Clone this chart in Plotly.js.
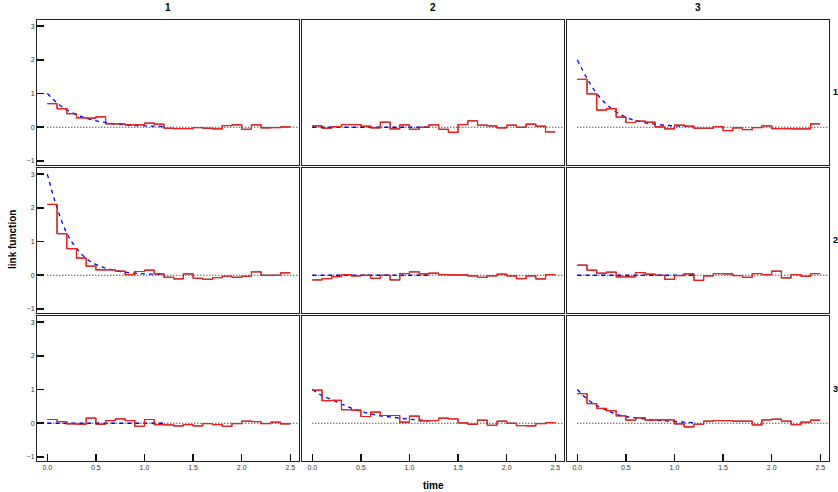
<!DOCTYPE html>
<html>
<head>
<meta charset="utf-8">
<script src="https://cdn.plot.ly/plotly-3.0.1.min.js"></script>
<style>html,body{margin:0;padding:0;background:#fff;}#plot{width:838px;height:492px;}</style>
</head>
<body>
<div id="plot"></div>
<script>
// bin edges (time)
var binEdges = [0,0.1,0.2,0.3,0.4,0.5,0.6,0.7,0.8,0.9,1.0,1.1,1.2,1.3,1.4,1.5,1.6,1.7,1.8,1.9,2.0,2.1,2.2,2.3,2.4,2.5];
var curveTime = [0,0.1,0.2,0.3,0.4,0.5,0.6,0.7,0.8,0.9,1.0,1.1,1.2];
var xTickVals = [0,0.5,1.0,1.5,2.0,2.5];
var xTickText = ["0.0","0.5","1.0","1.5","2.0","2.5"];
var yTickVals = [-1,0,1,2,3];
var yTickText = ["\u22121","0","1","2","3"];
var colLabels = ["1","2","3"];
var rowLabels = ["1","2","3"];

// step estimates per panel (row, col)
var step11 = [0.70,0.55,0.40,0.28,0.27,0.31,0.10,0.10,0.07,0.07,0.12,0.09,-0.03,-0.04,-0.04,-0.01,-0.03,-0.05,0.05,0.07,-0.06,0.07,-0.02,-0.01,0.01];
var step12 = [0.04,-0.03,0.02,0.08,0.08,0.03,-0.02,0.15,-0.05,0.07,-0.06,0.00,0.07,-0.06,-0.15,0.08,0.19,0.06,0.04,-0.02,0.06,0.00,0.09,0.03,-0.14];
var step13 = [1.42,0.99,0.51,0.55,0.30,0.14,0.18,0.15,0.01,-0.05,0.06,0.03,-0.03,-0.03,0.02,-0.10,-0.02,-0.07,-0.01,0.04,-0.04,-0.04,-0.05,-0.05,0.10];
var step21 = [2.10,1.23,0.79,0.51,0.27,0.16,0.16,0.12,0.02,0.11,0.15,0.04,-0.06,-0.11,0.04,-0.09,-0.12,-0.07,-0.03,-0.06,-0.03,0.10,0.00,0.00,0.07];
var step22 = [-0.14,-0.10,-0.04,0.02,-0.02,0.00,-0.09,0.00,-0.14,0.05,0.10,0.04,0.06,0.02,0.01,0.01,-0.02,-0.06,-0.02,0.03,-0.02,-0.10,-0.02,-0.11,0.02];
var step23 = [0.30,0.15,0.06,0.09,-0.05,-0.05,0.08,0.03,0.00,-0.12,-0.01,0.04,-0.15,-0.02,0.05,0.04,-0.01,-0.06,0.05,0.02,0.12,-0.08,0.02,-0.03,0.05];
var step31 = [0.11,0.05,-0.02,-0.03,0.15,-0.03,0.08,0.13,0.08,-0.09,0.11,-0.04,-0.05,-0.08,-0.04,-0.08,-0.01,-0.04,-0.09,-0.01,0.06,0.05,-0.01,0.03,-0.02];
var step32 = [0.98,0.67,0.68,0.40,0.39,0.20,0.33,0.23,0.23,0.03,0.21,0.07,0.08,0.15,0.13,0.01,-0.03,0.09,-0.06,0.06,0.00,-0.07,-0.08,-0.01,0.02];
var step33 = [0.88,0.58,0.44,0.37,0.22,0.09,0.16,0.09,0.10,0.10,-0.02,-0.11,-0.03,0.06,0.08,0.08,0.06,0.06,-0.05,0.10,0.12,0.06,-0.04,0.03,0.09];

// true link function (blue dashed)
var curve11 = [1.00,0.72,0.52,0.37,0.27,0.19,0.14,0.10,0.07,0.05,0.04,0.03,0.02];
var curve12 = [0,0,0,0,0,0,0,0,0,0,0,0,0];
var curve13 = [2.00,1.45,1.00,0.68,0.45,0.30,0.20,0.13,0.09,0.06,0.04,0.03,0.02];
var curve21 = [3.00,2.00,1.25,0.80,0.50,0.32,0.21,0.14,0.09,0.06,0.04,0.03,0.02];
var curve22 = [0,0,0,0,0,0,0,0,0,0,0,0,0];
var curve23 = [0,0,0,0,0,0,0,0,0,0,0,0,0];
var curve31 = [0,0,0,0,0,0,0,0,0,0,0,0,0];
var curve32 = [1.00,0.82,0.70,0.57,0.45,0.35,0.28,0.22,0.19,0.15,0.12,0.10,0.07];
var curve33 = [1.00,0.72,0.52,0.39,0.27,0.20,0.16,0.12,0.09,0.07,0.05,0.03,0.02];

var steps = [[step11,step12,step13],[step21,step22,step23],[step31,step32,step33]];
var curves = [[curve11,curve12,curve13],[curve21,curve22,curve23],[curve31,curve32,curve33]];

var W = 838, H = 492;
var colPx = [[37,299],[302,564],[567,829]];
var rowPx = [[20,165],[168,313],[316,461]];
var xr = [-0.106, 2.59];
var yr = [-1.12, 3.18];

var traces = [];
var layout = {
  width: W, height: H,
  margin: {l:0, r:0, t:0, b:0},
  paper_bgcolor: '#fff', plot_bgcolor: '#fff',
  showlegend: false,
  font: {family: 'Liberation Sans, Arial, sans-serif', size: 7, color: '#333'},
  annotations: []
};

for (var r = 0; r < 3; r++) {
  for (var c = 0; c < 3; c++) {
    var idx = r*3 + c + 1;
    var xa = 'x' + (idx === 1 ? '' : idx);
    var ya = 'y' + (idx === 1 ? '' : idx);
    var xkey = 'xaxis' + (idx === 1 ? '' : idx);
    var ykey = 'yaxis' + (idx === 1 ? '' : idx);
    var isBottom = (r === 2), isLeft = (c === 0);
    layout[xkey] = {
      domain: [colPx[c][0]/W, colPx[c][1]/W],
      anchor: ya, range: xr, showgrid: false, zeroline: false,
      showline: true, mirror: true, linecolor: '#222', linewidth: 1,
      ticks: isBottom ? 'inside' : '', ticklen: 7, tickwidth: 1.5, tickcolor: '#111',
      tickvals: xTickVals, ticktext: xTickText, showticklabels: isBottom,
      tickfont: {size: 7, color: '#333'}
    };
    layout[ykey] = {
      domain: [1 - rowPx[r][1]/H, 1 - rowPx[r][0]/H],
      anchor: xa, range: yr, showgrid: false, zeroline: false,
      showline: true, mirror: true, linecolor: '#222', linewidth: 1,
      ticks: isLeft ? 'inside' : '', ticklen: 7, tickwidth: 1.5, tickcolor: '#111',
      tickvals: yTickVals, ticktext: yTickText, showticklabels: isLeft,
      tickfont: {size: 7, color: '#333'}
    };
    // zero reference (dotted)
    traces.push({x: [0, xr[1]], y: [0, 0], xaxis: xa, yaxis: ya, mode: 'lines',
      line: {color: '#000', width: 1, dash: '1px,2px'}, hoverinfo: 'skip'});
    // true curve (blue dashed)
    traces.push({x: curveTime, y: curves[r][c], xaxis: xa, yaxis: ya, mode: 'lines',
      line: {color: '#0000ff', width: 1.3, dash: '4px,4px', shape: 'spline'}, hoverinfo: 'skip'});
    var s = steps[r][c];
    var sy = s.concat([s[s.length-1]]);
    // estimate steps: black underneath, red on top
    traces.push({x: binEdges, y: sy, xaxis: xa, yaxis: ya, mode: 'lines',
      line: {color: '#000', width: 0.8, shape: 'hv'}, hoverinfo: 'skip'});
    traces.push({x: binEdges, y: sy, xaxis: xa, yaxis: ya, mode: 'lines',
      line: {color: '#ff1a1a', width: 1.2, shape: 'hv'}, hoverinfo: 'skip'});
  }
}

// column strip labels
for (var c2 = 0; c2 < 3; c2++) {
  layout.annotations.push({text: '<b>' + colLabels[c2] + '</b>', xref: 'paper', yref: 'paper',
    x: (colPx[c2][0] + colPx[c2][1]) / 2 / W, y: 1 - 8/H, xanchor: 'center', yanchor: 'middle',
    showarrow: false, font: {size: 10, color: '#000'}});
}
// row strip labels (right side)
for (var r2 = 0; r2 < 3; r2++) {
  layout.annotations.push({text: '<b>' + rowLabels[r2] + '</b>', xref: 'paper', yref: 'paper',
    x: 831/W, y: 1 - (rowPx[r2][0] + rowPx[r2][1]) / 2 / H, xanchor: 'left', yanchor: 'middle',
    showarrow: false, font: {size: 9, color: '#000'}});
}
layout.annotations.push({text: '<b>time</b>', xref: 'paper', yref: 'paper',
  x: 433/W, y: 1 - 485/H, xanchor: 'center', yanchor: 'middle', showarrow: false,
  font: {size: 10, color: '#000'}});
layout.annotations.push({text: '<b>link function</b>', xref: 'paper', yref: 'paper',
  x: 12/W, y: 1 - 240/H, xanchor: 'center', yanchor: 'middle', showarrow: false, textangle: -90,
  font: {size: 10, color: '#000'}});

Plotly.newPlot('plot', traces, layout, {staticPlot: true, displayModeBar: false});
</script>
</body>
</html>
